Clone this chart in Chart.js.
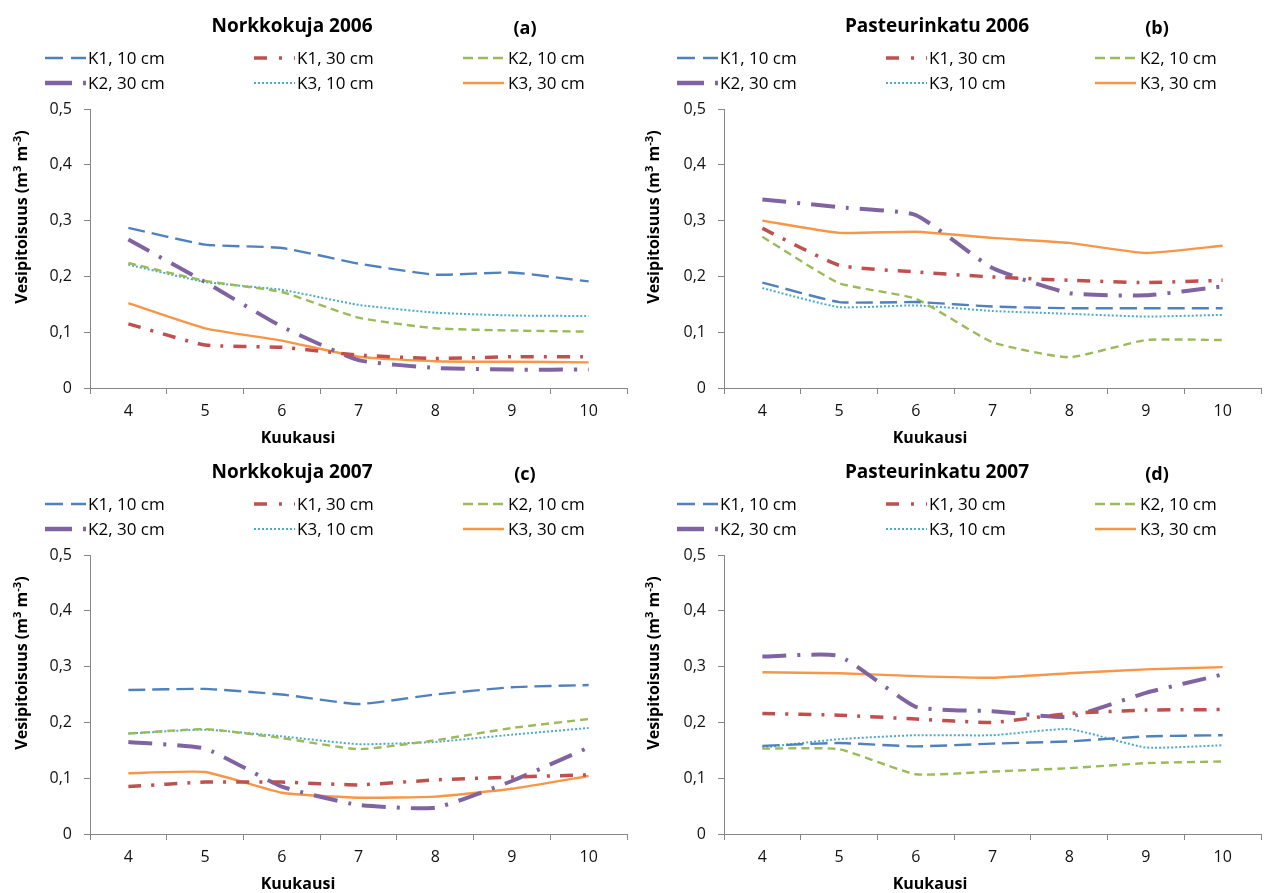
<!DOCTYPE html>
<html>
<head>
<meta charset="utf-8">
<title>Vesipitoisuus</title>
<script src="https://cdn.jsdelivr.net/npm/chart.js@4.4.0/dist/chart.umd.min.js"></script>
<style>
body { margin: 0; background: #fff; font-family: "Open Sans", sans-serif; color: #000; }
#page { position: relative; width: 1264px; height: 893px; overflow: hidden; }
.panel { position: absolute; width: 632px; height: 446px; }
.panel canvas { position: absolute; left: 0; top: 0; }
.title { position: absolute; top: 10px; width: 300px; text-align: center; font-weight: bold; font-size: 19px; line-height: 30px; white-space: nowrap; }
.tag { position: absolute; top: 12px; left: 495px; width: 60px; text-align: center; font-weight: bold; font-size: 18px; line-height: 30px; }
.legend-item { position: absolute; height: 24px; font-size: 17px; line-height: 24px; white-space: nowrap; }
.legend-item svg { position: absolute; left: 0; top: 0; }
.legend-item span { position: absolute; top: 0; }
.xtitle { position: absolute; top: 425px; width: 200px; text-align: center; font-weight: bold; font-size: 16px; line-height: 24px; }
.ytitle { position: absolute; left: -99px; top: 205px; width: 240px; height: 24px; line-height: 24px; text-align: center; font-weight: bold; font-size: 16px; transform: rotate(-90deg); white-space: nowrap; }
sup { font-size: 0.7em; line-height: 0; vertical-align: super; }
</style>
</head>
<body>
<div id="page"></div>

<script>

// kuukaudet (x-akseli)
const months = ["4", "5", "6", "7", "8", "9", "10"];

const seriesLabels = ["K1, 10 cm", "K1, 30 cm", "K2, 10 cm", "K2, 30 cm", "K3, 10 cm", "K3, 30 cm"];

const yTicks = [0, 0.1, 0.2, 0.3, 0.4, 0.5];

// (a) Norkkokuja 2006
const norkko2006_K1_10 = [0.287, 0.257, 0.251, 0.223, 0.203, 0.207, 0.191];
const norkko2006_K1_30 = [0.115, 0.077, 0.073, 0.059, 0.053, 0.056, 0.056];
const norkko2006_K2_10 = [0.224, 0.192, 0.172, 0.126, 0.107, 0.103, 0.101];
const norkko2006_K2_30 = [0.266, 0.190, 0.110, 0.050, 0.036, 0.033, 0.033];
const norkko2006_K3_10 = [0.221, 0.190, 0.176, 0.149, 0.135, 0.130, 0.129];
const norkko2006_K3_30 = [0.152, 0.107, 0.085, 0.056, 0.048, 0.047, 0.046];

// (b) Pasteurinkatu 2006
const pasteur2006_K1_10 = [0.189, 0.154, 0.154, 0.146, 0.143, 0.143, 0.143];
const pasteur2006_K1_30 = [0.286, 0.220, 0.208, 0.199, 0.193, 0.189, 0.193];
const pasteur2006_K2_10 = [0.271, 0.188, 0.160, 0.082, 0.055, 0.086, 0.086];
const pasteur2006_K2_30 = [0.338, 0.324, 0.310, 0.215, 0.170, 0.166, 0.182];
const pasteur2006_K3_10 = [0.179, 0.145, 0.148, 0.138, 0.133, 0.128, 0.131];
const pasteur2006_K3_30 = [0.300, 0.278, 0.280, 0.269, 0.260, 0.242, 0.255];

// (c) Norkkokuja 2007
const norkko2007_K1_10 = [0.258, 0.260, 0.250, 0.233, 0.250, 0.263, 0.267];
const norkko2007_K1_30 = [0.085, 0.093, 0.093, 0.088, 0.097, 0.102, 0.106];
const norkko2007_K2_10 = [0.180, 0.188, 0.172, 0.152, 0.168, 0.190, 0.206];
const norkko2007_K2_30 = [0.165, 0.153, 0.085, 0.052, 0.047, 0.095, 0.155];
const norkko2007_K3_10 = [0.180, 0.187, 0.175, 0.161, 0.165, 0.178, 0.190];
const norkko2007_K3_30 = [0.109, 0.111, 0.074, 0.065, 0.067, 0.081, 0.104];

// (d) Pasteurinkatu 2007
const pasteur2007_K1_10 = [0.158, 0.163, 0.157, 0.162, 0.166, 0.175, 0.177];
const pasteur2007_K1_30 = [0.216, 0.213, 0.206, 0.200, 0.216, 0.222, 0.223];
const pasteur2007_K2_10 = [0.153, 0.152, 0.107, 0.112, 0.118, 0.127, 0.130];
const pasteur2007_K2_30 = [0.318, 0.319, 0.228, 0.220, 0.210, 0.253, 0.286];
const pasteur2007_K3_10 = [0.155, 0.170, 0.177, 0.177, 0.188, 0.155, 0.159];
const pasteur2007_K3_30 = [0.290, 0.288, 0.283, 0.280, 0.288, 0.295, 0.299];


// viivatyylit, samassa jarjestyksessa kuin seriesLabels
const lineStyles = [
    { color: "#4F81BD", width: 2.4, dash: [17, 7],           legendWidth: 2.5, legendDash: "18 8" },
    { color: "#C0504D", width: 3.5, dash: [13, 10, 3, 10],   legendWidth: 3.5, legendDash: "13 12 3 12" },
    { color: "#9BBB59", width: 2.4, dash: [8, 5],            legendWidth: 2.5, legendDash: "10 5" },
    { color: "#8064A2", width: 4,   dash: [24, 11, 3, 11],   legendWidth: 4.5, legendDash: "27 11 3 11" },
    { color: "#4BACC6", width: 2,   dash: [2, 2],            legendWidth: 2,   legendDash: "2 2" },
    { color: "#F79646", width: 2.4, dash: [],                legendWidth: 2.5, legendDash: "" }
];

const legendCols = [45, 254, 463];
const legendTextCols = [88, 297, 508];
const legendRows = [58, 83];


function formatTick(value) {

    if (value === 0) return "0";

    return value.toFixed(1).replace(".", ",");
}


function addText(parent, className, html, left) {

    const el = document.createElement("div");
    el.className = className;
    el.innerHTML = html;

    if (left !== undefined) el.style.left = left + "px";

    parent.appendChild(el);
    return el;
}


function addLegend(panel) {

    seriesLabels.forEach((label, i) => {

        const st = lineStyles[i];
        const col = i % 3;
        const row = Math.floor(i / 3);

        const item = document.createElement("div");
        item.className = "legend-item";
        item.style.left = legendCols[col] + "px";
        item.style.top = (legendRows[row] - 12) + "px";

        item.innerHTML =
            `<svg width="42" height="24"><line x1="0" y1="12" x2="41" y2="12"
                stroke="${st.color}" stroke-width="${st.legendWidth}"
                stroke-dasharray="${st.legendDash}"/></svg>
             <span style="left:${legendTextCols[col] - legendCols[col]}px">${label}</span>`;

        panel.appendChild(item);
    });
}


function drawPanel(opts) {

    const panel = document.createElement("div");
    panel.className = "panel";
    panel.style.left = opts.left + "px";
    panel.style.top = opts.top + "px";
    document.getElementById("page").appendChild(panel);

    const canvas = document.createElement("canvas");
    canvas.width = 632;
    canvas.height = 446;
    panel.appendChild(canvas);

    addText(panel, "title", opts.title, opts.titleCenter - 150);
    addText(panel, "tag", opts.tag);
    addLegend(panel);
    addText(panel, "xtitle", "Kuukausi", 198);
    addText(panel, "ytitle", "Vesipitoisuus (m<sup>3</sup> m<sup>-3</sup>)");

    const datasets = opts.values.map((vals, i) => ({
        label: seriesLabels[i],
        data: vals,
        borderColor: lineStyles[i].color,
        backgroundColor: lineStyles[i].color,
        borderWidth: lineStyles[i].width,
        borderDash: lineStyles[i].dash,
        borderCapStyle: "butt",
        pointRadius: 0,
        tension: 0.15,
        fill: false
    }));

    new Chart(canvas, {

        type: "line",

        data: {
            labels: months,
            datasets: datasets
        },

        options: {

            responsive: false,
            animation: false,
            events: [],

            layout: {
                padding: { left: opts.padLeft, right: opts.padRight, top: 109, bottom: 18 }
            },

            plugins: {
                legend: { display: false },
                title: { display: false },
                tooltip: { enabled: false }
            },

            scales: {

                x: {
                    offset: true,
                    grid: { offset: true, drawOnChartArea: false, color: "#868686", tickLength: 6 },
                    border: { color: "#868686" },
                    ticks: {
                        color: "#111",
                        padding: 8,
                        maxRotation: 0,
                        font: { family: "Open Sans", size: 16 }
                    },
                    afterFit: (scale) => { scale.height = 40; }
                },

                y: {
                    min: 0,
                    max: 0.5,
                    afterBuildTicks: (scale) => {
                        scale.ticks = yTicks.map(v => ({ value: v }));
                    },
                    grid: { drawOnChartArea: false, color: "#868686", tickLength: 6 },
                    border: { color: "#868686" },
                    ticks: {
                        color: "#111",
                        padding: 12,
                        callback: formatTick,
                        font: { family: "Open Sans", size: 16 }
                    },
                    afterFit: (scale) => { scale.width = 58; }
                }
            }
        }
    });
}


drawPanel({
    left: 0, top: 0, padLeft: 32, padRight: 5, titleCenter: 292,
    title: "Norkkokuja 2006", tag: "(a)",
    values: [norkko2006_K1_10, norkko2006_K1_30, norkko2006_K2_10,
             norkko2006_K2_30, norkko2006_K3_10, norkko2006_K3_30]
});

drawPanel({
    left: 632, top: 0, padLeft: 34, padRight: 3, titleCenter: 305,
    title: "Pasteurinkatu 2006", tag: "(b)",
    values: [pasteur2006_K1_10, pasteur2006_K1_30, pasteur2006_K2_10,
             pasteur2006_K2_30, pasteur2006_K3_10, pasteur2006_K3_30]
});

drawPanel({
    left: 0, top: 446, padLeft: 32, padRight: 5, titleCenter: 292,
    title: "Norkkokuja 2007", tag: "(c)",
    values: [norkko2007_K1_10, norkko2007_K1_30, norkko2007_K2_10,
             norkko2007_K2_30, norkko2007_K3_10, norkko2007_K3_30]
});

drawPanel({
    left: 632, top: 446, padLeft: 34, padRight: 3, titleCenter: 305,
    title: "Pasteurinkatu 2007", tag: "(d)",
    values: [pasteur2007_K1_10, pasteur2007_K1_30, pasteur2007_K2_10,
             pasteur2007_K2_30, pasteur2007_K3_10, pasteur2007_K3_30]
});

</script>
</body>
</html>
